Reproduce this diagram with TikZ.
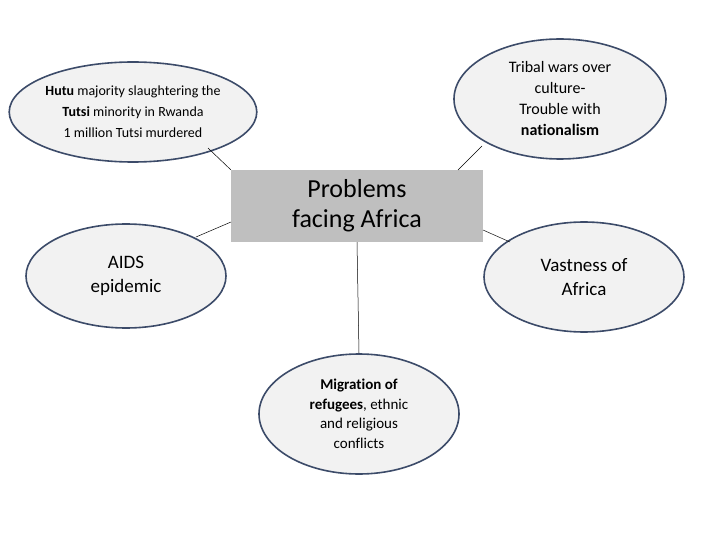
\documentclass[tikz,border=0pt]{standalone}
\usepackage{fontspec}
\setmainfont[Ligatures=NoCommon]{Carlito}
\usetikzlibrary{shapes.geometric}
\definecolor{bord}{RGB}{60,75,105}
\begin{document}
\begin{tikzpicture}[x=1pt,y=-1pt,
  bub/.style={ellipse,draw=bord,line width=1.6pt,fill=black!5,align=center,inner sep=0pt},
  con/.style={draw=black,line width=0.5pt}]
\useasboundingbox (0,0) rectangle (720,540);
\node[draw=none,fill=black!25,minimum width=252pt,minimum height=72pt,align=center,font=\fontsize{26}{30}\selectfont,inner sep=0pt] (c) at (357,206) {Problems\\facing Africa};
\node[bub,minimum width=206pt,minimum height=100pt,font=\fontsize{14}{21}\selectfont] (tl) at (133,112) {\textbf{Hutu} majority slaughtering the\\\textbf{Tutsi} minority in Rwanda\\1 million Tutsi murdered};
\node[bub,minimum width=212pt,minimum height=120pt,font=\fontsize{16}{21}\selectfont] (tr) at (560,99) {Tribal wars over\\culture-\\Trouble with\\\textbf{nationalism}};
\node[bub,minimum width=200pt,minimum height=104pt,font=\fontsize{19}{24}\selectfont] (l) at (126,276) {AIDS\\epidemic};
\node[bub,minimum width=200pt,minimum height=110pt,font=\fontsize{19}{24}\selectfont] (r) at (584,277) {Vastness of\\Africa};
\node[bub,minimum width=200pt,minimum height=120pt,font=\fontsize{15}{19.5}\selectfont] (b) at (359,414) {\textbf{Migration of}\\\textbf{refugees}, ethnic\\and religious\\conflicts};
\coordinate (ctr) at (458,170);
\coordinate (cl) at (231,222);
\coordinate (cr) at (483,230);
\coordinate (re) at (510,242);
\coordinate (tle) at (208,148);
\coordinate (tre) at (482,146);
\coordinate (le) at (196,237);
\draw[con] (tle) -- (c.north west);
\draw[con] (tre) -- (ctr);
\draw[con] (le) -- (cl);
\draw[con] (cr) -- (re);
\draw[con] (c.south) -- (b.north);
\end{tikzpicture}
\end{document}
